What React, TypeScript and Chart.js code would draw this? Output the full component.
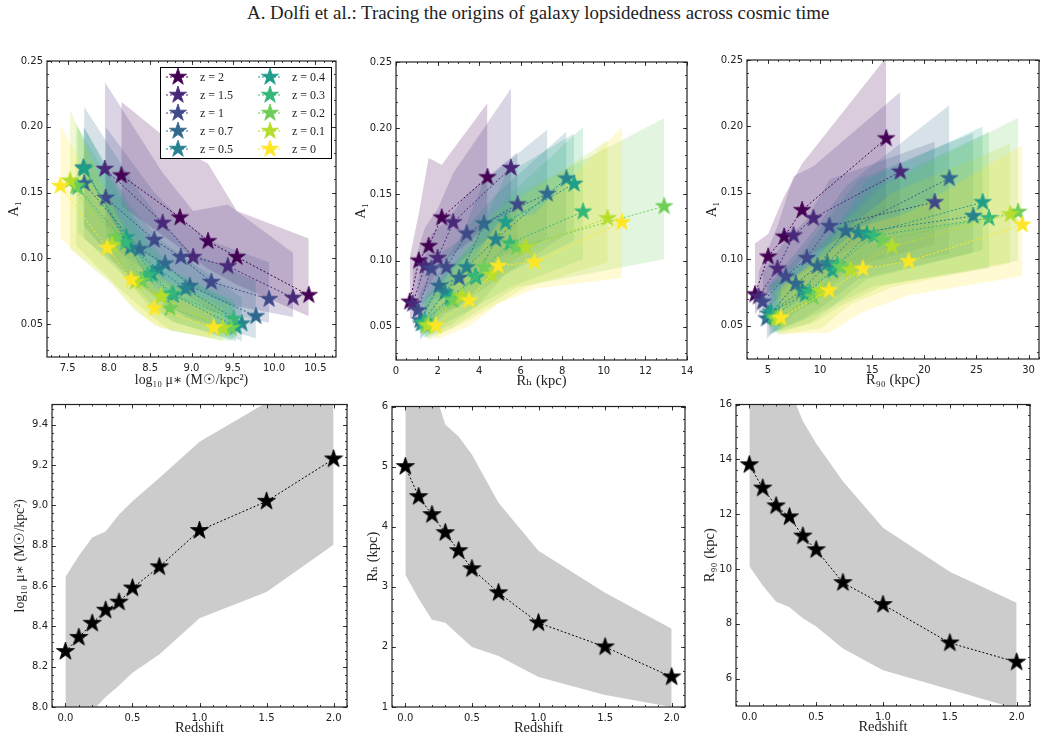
import React, { useEffect, useRef } from 'react';
import { Chart, registerables } from 'chart.js';

Chart.register(...registerables);

const zLabels = ['z = 2', 'z = 1.5', 'z = 1', 'z = 0.7', 'z = 0.5', 'z = 0.4', 'z = 0.3', 'z = 0.2', 'z = 0.1', 'z = 0'];
const zColors = ['#440154', '#482878', '#3e4989', '#31688e', '#26828e', '#1f9e89', '#35b779', '#6ece58', '#b5de2b', '#fde725'];
const zBands = ['rgba(68,1,84,0.2)', 'rgba(72,40,120,0.2)', 'rgba(62,73,137,0.2)', 'rgba(49,104,142,0.2)', 'rgba(38,130,142,0.2)', 'rgba(31,158,137,0.2)', 'rgba(53,183,121,0.2)', 'rgba(110,206,88,0.2)', 'rgba(181,222,43,0.2)', 'rgba(253,231,37,0.2)'];

// top row, one line per redshift from z=2 down to z=0
const massX = [
  [8.15, 8.86, 9.2, 9.55, 10.42],
  [7.95, 8.65, 9.02, 9.44, 10.23],
  [7.96, 8.55, 8.87, 9.24, 9.94],
  [7.7, 8.37, 8.68, 8.98, 9.78],
  [7.69, 8.26, 8.6, 8.93, 9.61],
  [7.7, 8.21, 8.52, 8.78, 9.54],
  [7.62, 8.2, 8.47, 8.76, 9.51],
  [7.6, 8.08, 8.4, 8.74, 9.48],
  [7.53, 8.04, 8.32, 8.63, 9.38],
  [7.41, 7.98, 8.27, 8.55, 9.27],
];
const massY = [
  [0.163, 0.131, 0.113, 0.101, 0.072],
  [0.168, 0.127, 0.101, 0.094, 0.07],
  [0.146, 0.114, 0.101, 0.082, 0.069],
  [0.157, 0.107, 0.096, 0.079, 0.056],
  [0.169, 0.108, 0.092, 0.077, 0.0505],
  [0.168, 0.116, 0.088, 0.072, 0.048],
  [0.154, 0.112, 0.087, 0.073, 0.054],
  [0.155, 0.116, 0.083, 0.062, 0.047],
  [0.159, 0.11, 0.082, 0.071, 0.047],
  [0.155, 0.108, 0.084, 0.062, 0.0475],
];
const massHi = [
  [0.219, 0.183, 0.172, 0.136, 0.115],
  [0.234, 0.165, 0.136, 0.141, 0.104],
  [0.2, 0.15, 0.13, 0.113, 0.097],
  [0.215, 0.15, 0.125, 0.105, 0.083],
  [0.2, 0.14, 0.115, 0.1, 0.07],
  [0.2, 0.14, 0.112, 0.09, 0.065],
  [0.2, 0.14, 0.11, 0.09, 0.068],
  [0.203, 0.135, 0.105, 0.08, 0.065],
  [0.2127, 0.14, 0.105, 0.085, 0.062],
  [0.202, 0.135, 0.105, 0.078, 0.058],
];
const massLo = [
  [0.14, 0.108, 0.092, 0.08, 0.056],
  [0.125, 0.095, 0.078, 0.065, 0.0555],
  [0.113, 0.085, 0.075, 0.06, 0.051],
  [0.115, 0.08, 0.065, 0.055, 0.039],
  [0.125, 0.085, 0.07, 0.055, 0.037],
  [0.125, 0.085, 0.065, 0.052, 0.037],
  [0.12, 0.085, 0.065, 0.052, 0.038],
  [0.11, 0.08, 0.062, 0.045, 0.037],
  [0.107, 0.08, 0.06, 0.047, 0.037],
  [0.115, 0.085, 0.065, 0.049, 0.039],
];

const rhX = [
  [0.66, 1.1, 1.57, 2.2, 4.4],
  [0.8, 1.4, 2.0, 2.75, 5.53],
  [1.05, 1.7, 2.43, 3.4, 5.85],
  [1.15, 2.07, 3.04, 4.23, 7.28],
  [1.22, 2.35, 3.4, 4.8, 8.2],
  [1.38, 2.6, 3.85, 5.27, 8.57],
  [1.33, 2.67, 3.8, 5.48, 9.0],
  [1.43, 2.75, 4.24, 5.8, 12.9],
  [1.54, 3.15, 4.6, 6.24, 10.18],
  [1.91, 3.52, 4.92, 6.66, 10.87],
];
const rhY = [
  [0.069, 0.1, 0.111, 0.1325, 0.163],
  [0.0675, 0.096, 0.102, 0.129, 0.17],
  [0.0625, 0.094, 0.095, 0.1205, 0.1425],
  [0.055, 0.081, 0.087, 0.128, 0.1505],
  [0.0525, 0.076, 0.095, 0.116, 0.162],
  [0.054, 0.0725, 0.0875, 0.129, 0.158],
  [0.053, 0.071, 0.088, 0.113, 0.137],
  [0.051, 0.07, 0.095, 0.11, 0.141],
  [0.051, 0.073, 0.089, 0.11, 0.132],
  [0.051, 0.07, 0.096, 0.099, 0.129],
];
const rhHi = [
  [0.1025, 0.136, 0.1775, 0.1725, 0.219],
  [0.095, 0.125, 0.139, 0.166, 0.23],
  [0.085, 0.12, 0.13, 0.15, 0.182],
  [0.075, 0.105, 0.115, 0.16, 0.199],
  [0.07, 0.1, 0.125, 0.15, 0.1975],
  [0.07, 0.095, 0.115, 0.165, 0.196],
  [0.07, 0.095, 0.115, 0.15, 0.201],
  [0.068, 0.095, 0.13, 0.15, 0.2075],
  [0.068, 0.1, 0.12, 0.15, 0.191],
  [0.068, 0.095, 0.13, 0.135, 0.201],
];
const rhLo = [
  [0.055, 0.07, 0.08, 0.098, 0.125],
  [0.05, 0.07, 0.08, 0.095, 0.13],
  [0.047, 0.07, 0.075, 0.09, 0.11],
  [0.04, 0.06, 0.065, 0.085, 0.1175],
  [0.042, 0.06, 0.07, 0.085, 0.12],
  [0.042, 0.055, 0.065, 0.09, 0.115],
  [0.042, 0.052, 0.065, 0.08, 0.101],
  [0.041, 0.05, 0.065, 0.08, 0.101],
  [0.04, 0.052, 0.065, 0.08, 0.0988],
  [0.0405, 0.0505, 0.0675, 0.0788, 0.087],
];

const r90X = [
  [3.76, 5.03, 6.56, 8.28, 16.35],
  [4.1, 5.92, 7.46, 9.37, 17.7],
  [4.5, 6.72, 8.73, 10.9, 21.0],
  [4.87, 7.68, 9.75, 12.46, 22.4],
  [5.06, 8.3, 10.7, 13.67, 24.7],
  [5.3, 8.6, 11.2, 14.5, 25.6],
  [5.5, 9.0, 11.66, 15.17, 26.2],
  [5.7, 9.34, 12.0, 16.0, 29.0],
  [5.92, 10.07, 12.94, 16.9, 28.25],
  [6.24, 10.87, 14.1, 18.5, 29.4],
];
const r90Y = [
  [0.0736, 0.102, 0.117, 0.137, 0.191],
  [0.072, 0.093, 0.118, 0.131, 0.166],
  [0.068, 0.087, 0.101, 0.125, 0.143],
  [0.0555, 0.0816, 0.0948, 0.1214, 0.161],
  [0.059, 0.0766, 0.097, 0.12, 0.1326],
  [0.0605, 0.0736, 0.0915, 0.119, 0.143],
  [0.057, 0.0754, 0.096, 0.1177, 0.131],
  [0.0548, 0.0716, 0.094, 0.1144, 0.1357],
  [0.0555, 0.076, 0.092, 0.1097, 0.1338],
  [0.056, 0.0766, 0.093, 0.0985, 0.126],
];
const r90Hi = [
  [0.112, 0.119, 0.1475, 0.172, 0.252],
  [0.09, 0.125, 0.1625, 0.17, 0.226],
  [0.09, 0.115, 0.13, 0.16, 0.1885],
  [0.08, 0.105, 0.125, 0.155, 0.216],
  [0.08, 0.105, 0.13, 0.16, 0.195],
  [0.08, 0.1, 0.12, 0.16, 0.2],
  [0.08, 0.1, 0.125, 0.155, 0.196],
  [0.075, 0.095, 0.125, 0.155, 0.2065],
  [0.075, 0.105, 0.125, 0.15, 0.187],
  [0.08, 0.105, 0.125, 0.135, 0.186],
];
const r90Lo = [
  [0.058, 0.075, 0.085, 0.1, 0.135],
  [0.058, 0.07, 0.085, 0.095, 0.125],
  [0.05, 0.063, 0.075, 0.09, 0.111],
  [0.04, 0.06, 0.07, 0.09, 0.104],
  [0.043, 0.055, 0.067, 0.085, 0.105],
  [0.045, 0.055, 0.065, 0.085, 0.107],
  [0.045, 0.052, 0.067, 0.08, 0.0935],
  [0.044, 0.052, 0.065, 0.08, 0.099],
  [0.043, 0.048, 0.066, 0.079, 0.097],
  [0.044, 0.0447, 0.0604, 0.073, 0.0874],
];

// bottom row, medians against redshift
const redshift = [0, 0.1, 0.2, 0.3, 0.4, 0.5, 0.7, 1, 1.5, 2];
const muMedian = [8.275, 8.345, 8.415, 8.48, 8.52, 8.59, 8.695, 8.875, 9.02, 9.23];
const muHi = [8.645, 8.75, 8.84, 8.87, 8.955, 9.02, 9.135, 9.315, 9.51, 9.7];
const muLo = [7.9, 7.93, 7.98, 8.05, 8.107, 8.17, 8.26, 8.44, 8.57, 8.805];
const rhMedian = [5, 4.5, 4.2, 3.9, 3.6, 3.3, 2.9, 2.4, 2, 1.5];
const rhMedHi = [7.3, 6.9, 6.4, 5.7, 5.5, 5.2, 4.4, 3.6, 2.9, 2.3];
const rhMedLo = [3.2, 2.8, 2.45, 2.4, 2.2, 2.0, 1.85, 1.5, 1.2, 1.0];
const r90Median = [13.8, 12.95, 12.3, 11.9, 11.2, 10.7, 9.5, 8.7, 7.3, 6.6];
const r90MedHi = [19.5, 18.5, 17.5, 16.6, 15.4, 14.58, 13.2, 11.5, 9.9, 8.77];
const r90MedLo = [10.1, 9.4, 8.8, 8.6, 8.2, 7.9, 7.1, 6.3, 5.6, 4.9];

const a1Ticks = [0.05, 0.1, 0.15, 0.2, 0.25];
const massTicks = [7.5, 8, 8.5, 9, 9.5, 10, 10.5];
const rhTicks = [0, 2, 4, 6, 8, 10, 12, 14];
const r90Ticks = [5, 10, 15, 20, 25, 30];
const zTicks = [0, 0.5, 1, 1.5, 2];
const muTicks = [8, 8.2, 8.4, 8.6, 8.8, 9, 9.2, 9.4];
const rhMedTicks = [1, 2, 3, 4, 5, 6];
const r90MedTicks = [6, 8, 10, 12, 14, 16];

const serif = '"Liberation Serif", "DejaVu Serif", serif';
const sans = '"DejaVu Sans", sans-serif';

function starImage(color: string, radius: number) {
  const size = Math.ceil(radius * 2) + 4;
  const c = document.createElement('canvas');
  c.width = size;
  c.height = size;
  const ctx = c.getContext('2d')!;
  ctx.translate(size / 2, size / 2);
  ctx.beginPath();
  for (let i = 0; i < 10; i++) {
    const r = i % 2 === 0 ? radius : radius * 0.382;
    const a = (i * Math.PI) / 5 - Math.PI / 2;
    ctx.lineTo(r * Math.cos(a), r * Math.sin(a));
  }
  ctx.closePath();
  ctx.fillStyle = color;
  ctx.strokeStyle = color;
  ctx.lineWidth = 0.8;
  ctx.lineJoin = 'miter';
  ctx.fill();
  ctx.stroke();
  return c;
}

// inward ticks on all four sides plus the frame, matplotlib style
function framePlugin(xMinor: number, yMinor: number) {
  return {
    id: 'frame',
    afterDraw(chart: any) {
      const { ctx, chartArea: a, scales } = chart;
      const { x, y } = scales;
      ctx.save();
      ctx.strokeStyle = '#111';
      ctx.lineWidth = 0.8;
      ctx.beginPath();
      const mark = (v: number, len: number) => {
        const px = Math.round(x.getPixelForValue(v)) + 0.5;
        ctx.moveTo(px, a.bottom);
        ctx.lineTo(px, a.bottom - len);
        ctx.moveTo(px, a.top);
        ctx.lineTo(px, a.top + len);
      };
      const markY = (v: number, len: number) => {
        const py = Math.round(y.getPixelForValue(v)) + 0.5;
        ctx.moveTo(a.left, py);
        ctx.lineTo(a.left + len, py);
        ctx.moveTo(a.right, py);
        ctx.lineTo(a.right - len, py);
      };
      for (let i = Math.ceil(x.min / xMinor - 1e-6); i * xMinor <= x.max + 1e-9; i++) mark(i * xMinor, 2);
      for (let i = Math.ceil(y.min / yMinor - 1e-6); i * yMinor <= y.max + 1e-9; i++) markY(i * yMinor, 2);
      x.ticks.forEach((t: any) => mark(t.value, 4));
      y.ticks.forEach((t: any) => markY(t.value, 4));
      ctx.stroke();
      ctx.strokeStyle = '#222';
      ctx.lineWidth = 1.2;
      ctx.strokeRect(a.left, a.top, a.right - a.left, a.bottom - a.top);
      ctx.restore();
    },
  };
}

const legendPlugin = {
  id: 'zLegend',
  afterDatasetsDraw(chart: any) {
    const { ctx, chartArea: a } = chart;
    const left = a.left + 113;
    const top = a.top + 6;
    ctx.save();
    ctx.fillStyle = '#fff';
    ctx.fillRect(left, top, 172, 92);
    ctx.strokeStyle = '#000';
    ctx.lineWidth = 1;
    ctx.strokeRect(left + 0.5, top + 0.5, 171, 91);
    ctx.font = `12px ${serif}`;
    ctx.textBaseline = 'middle';
    zLabels.forEach((label, i) => {
      const col = i < 5 ? 0 : 1;
      const row = i % 5;
      const cx = left + 18 + col * 92;
      const cy = top + 10 + row * 18;
      ctx.strokeStyle = zColors[i];
      ctx.setLineDash([2, 2]);
      ctx.beginPath();
      ctx.moveTo(cx - 12, cy);
      ctx.lineTo(cx + 12, cy);
      ctx.stroke();
      ctx.setLineDash([]);
      const star = starImage(zColors[i], 9);
      ctx.drawImage(star, cx - star.width / 2, cy - star.height / 2);
      ctx.fillStyle = '#222';
      ctx.fillText(label, cx + 22, cy + 0.5);
    });
    ctx.restore();
  },
};

type Series = { xs: number[]; ys: number[]; hi: number[]; lo: number[]; color: string; band: string; radius: number };

function toPoints(xs: number[], ys: number[]) {
  return xs.map((x, i) => ({ x, y: ys[i] }));
}

function buildDatasets(series: Series[]) {
  const out: any[] = [];
  series.forEach((s, i) => {
    const order = series.length - i;
    out.push({ data: toPoints(s.xs, s.hi), fill: '+1', backgroundColor: s.band, borderWidth: 0, pointRadius: 0, order });
    out.push({ data: toPoints(s.xs, s.lo), fill: false, borderWidth: 0, pointRadius: 0, order });
    out.push({
      data: toPoints(s.xs, s.ys),
      fill: false,
      borderColor: s.color,
      borderWidth: 1,
      borderDash: [2, 2],
      pointStyle: starImage(s.color, s.radius),
      pointRadius: s.radius,
      order,
    });
  });
  return out;
}

type PanelProps = {
  left: number; top: number; width: number; height: number;
  xLim: [number, number]; yLim: [number, number];
  xTicks: number[]; yTicks: number[];
  xMinor: number; yMinor: number;
  xDigits: number; yDigits: number;
  xTitle: string; yTitle: string;
  xBox: number; yBox: number;
  series: Series[];
  legend?: boolean;
};

const PAD_TOP = 8;
const PAD_RIGHT = 14;

const titleFont = (text: string) => ({ family: serif, size: text.startsWith('log') ? 13.8 : 14.5 });

function Panel(p: PanelProps) {
  const ref = useRef<HTMLCanvasElement>(null);

  useEffect(() => {
    if (!ref.current) return;
    const tickFont = { family: sans, size: 10 };
    const plugins: any[] = [framePlugin(p.xMinor, p.yMinor)];
    if (p.legend) plugins.push(legendPlugin);
    const chart = new Chart(ref.current, {
      type: 'line',
      data: { datasets: buildDatasets(p.series) },
      options: {
        animation: false,
        responsive: false,
        layout: { padding: { top: PAD_TOP, right: PAD_RIGHT, left: 0, bottom: 0 } },
        plugins: { legend: { display: false }, tooltip: { enabled: false }, filler: { drawTime: 'beforeDatasetsDraw' } },
        scales: {
          x: {
            type: 'linear',
            min: p.xLim[0],
            max: p.xLim[1],
            grid: { display: false, drawTicks: false },
            border: { display: false },
            afterBuildTicks: (s: any) => { s.ticks = p.xTicks.map((value) => ({ value })); },
            afterFit: (s: any) => { s.height = p.xBox; },
            ticks: { font: tickFont, color: '#222', padding: 5, maxRotation: 0, autoSkip: false, callback: (v: any) => Number(v).toFixed(p.xDigits) },
            title: { display: true, text: p.xTitle, font: titleFont(p.xTitle), color: '#222', padding: 0 },
          },
          y: {
            type: 'linear',
            min: p.yLim[0],
            max: p.yLim[1],
            grid: { display: false, drawTicks: false },
            border: { display: false },
            afterBuildTicks: (s: any) => { s.ticks = p.yTicks.map((value) => ({ value })); },
            afterFit: (s: any) => { s.width = p.yBox; },
            ticks: { font: tickFont, color: '#222', padding: 4, autoSkip: false, callback: (v: any) => Number(v).toFixed(p.yDigits) },
            title: { display: true, text: p.yTitle, font: titleFont(p.yTitle), color: '#222', padding: 0 },
          },
        },
      } as any,
      plugins,
    });
    return () => chart.destroy();
  }, []);

  return (
    <canvas
      ref={ref}
      width={p.yBox + p.width + PAD_RIGHT}
      height={PAD_TOP + p.height + p.xBox}
      style={{ position: 'absolute', left: p.left - p.yBox, top: p.top - PAD_TOP }}
    />
  );
}

function zSeries(xs: number[][], ys: number[][], hi: number[][], lo: number[][]): Series[] {
  return zColors.map((color, i) => ({ xs: xs[i], ys: ys[i], hi: hi[i], lo: lo[i], color, band: zBands[i], radius: 9 }));
}

function medianSeries(ys: number[], hi: number[], lo: number[]): Series[] {
  return [{ xs: redshift, ys, hi, lo, color: '#000', band: 'rgba(0,0,0,0.2)', radius: 9.5 }];
}

export default function App() {
  return (
    <div style={{ position: 'absolute', left: 0, top: 0, width: 1046, height: 740, background: '#fff', overflow: 'hidden' }}>
      <div style={{ position: 'absolute', left: 247, top: 2, whiteSpace: 'nowrap', fontFamily: serif, fontSize: 18.9, color: '#222' }}>
        A. Dolfi et al.: Tracing the origins of galaxy lopsidedness across cosmic time
      </div>
      <Panel left={47} top={59} width={289} height={298} xLim={[7.25, 10.75]} yLim={[0.025, 0.25]} xTicks={massTicks} yTicks={a1Ticks} xMinor={0.1} yMinor={0.01} xDigits={1} yDigits={2} xTitle="log₁₀ μ∗ (M☉/kpc²)" yTitle="A₁" xBox={32} yBox={42} series={zSeries(massX, massY, massHi, massLo)} legend />
      <Panel left={396} top={60} width={291} height={300} xLim={[0, 14]} yLim={[0.025, 0.25]} xTicks={rhTicks} yTicks={a1Ticks} xMinor={0.5} yMinor={0.01} xDigits={0} yDigits={2} xTitle="Rₕ (kpc)" yTitle="A₁" xBox={30} yBox={44} series={zSeries(rhX, rhY, rhHi, rhLo)} />
      <Panel left={747} top={58} width={292} height={301} xLim={[3, 31]} yLim={[0.025, 0.25]} xTicks={r90Ticks} yTicks={a1Ticks} xMinor={1} yMinor={0.01} xDigits={0} yDigits={2} xTitle="R₉₀ (kpc)" yTitle="A₁" xBox={30} yBox={44} series={zSeries(r90X, r90Y, r90Hi, r90Lo)} />
      <Panel left={52} top={402} width={295} height={305} xLim={[-0.1, 2.1]} yLim={[8, 9.5]} xTicks={zTicks} yTicks={muTicks} xMinor={0.1} yMinor={0.04} xDigits={1} yDigits={1} xTitle="Redshift" yTitle="log₁₀ μ∗ (M☉/kpc²)" xBox={30} yBox={40} series={medianSeries(muMedian, muHi, muLo)} />
      <Panel left={392} top={404} width={293} height={303} xLim={[-0.1, 2.1]} yLim={[1, 6]} xTicks={zTicks} yTicks={rhMedTicks} xMinor={0.1} yMinor={0.2} xDigits={1} yDigits={0} xTitle="Redshift" yTitle="Rₕ (kpc)" xBox={30} yBox={28} series={medianSeries(rhMedian, rhMedHi, rhMedLo)} />
      <Panel left={736} top={402} width={294} height={304} xLim={[-0.1, 2.1]} yLim={[5, 16]} xTicks={zTicks} yTicks={r90MedTicks} xMinor={0.1} yMinor={0.4} xDigits={1} yDigits={0} xTitle="Redshift" yTitle="R₉₀ (kpc)" xBox={30} yBox={35} series={medianSeries(r90Median, r90MedHi, r90MedLo)} />
    </div>
  );
}
